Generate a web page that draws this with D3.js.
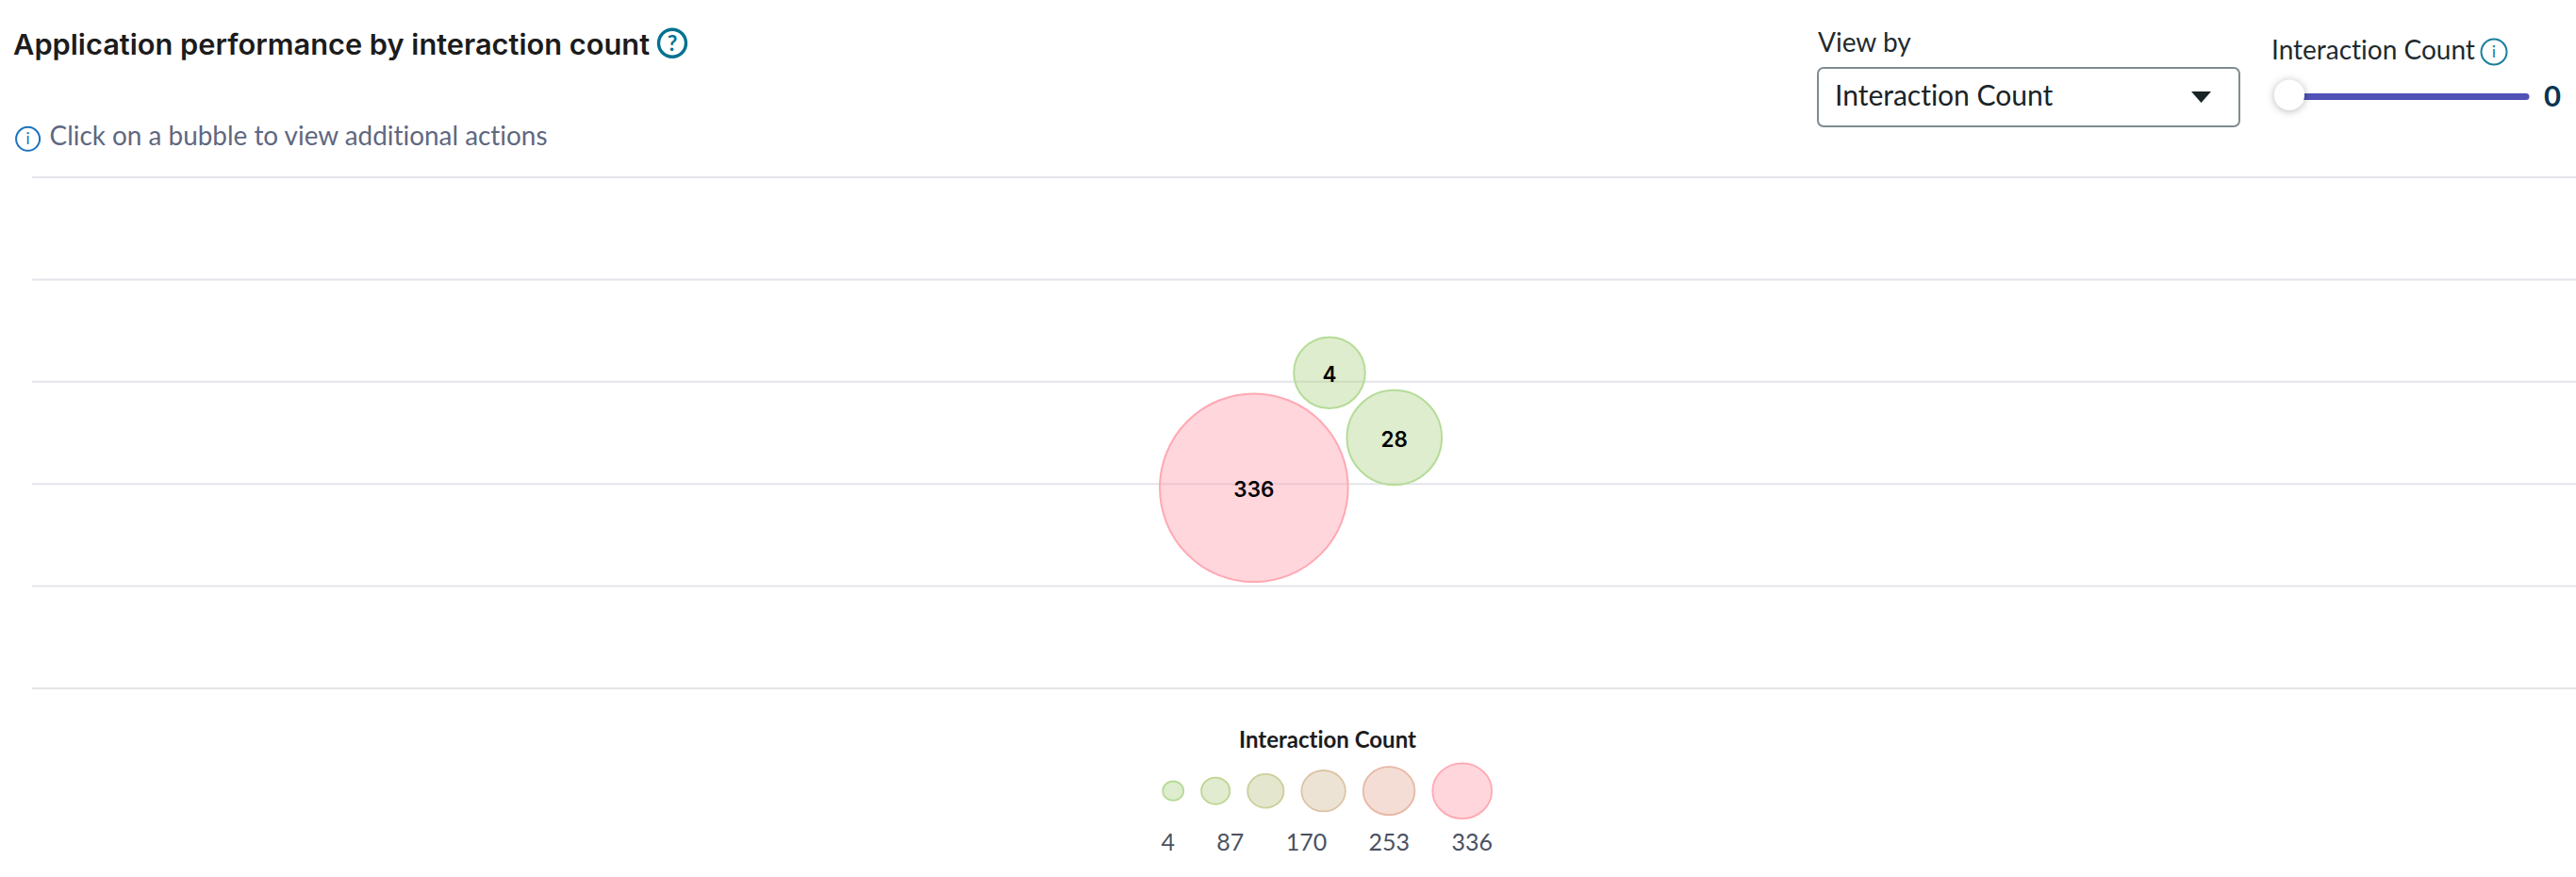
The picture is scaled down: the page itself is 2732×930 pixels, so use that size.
<!DOCTYPE html>
<html>
<head>
<meta charset="utf-8">
<title>Application performance by interaction count</title>
<script src="https://cdnjs.cloudflare.com/ajax/libs/d3/7.8.5/d3.min.js"></script>
<style>
  html, body { margin: 0; padding: 0; background: #fff; overflow: hidden; }
  svg { display: block; }
  text { font-family: Lato, sans-serif; font-variant-ligatures: none; }
  .heading { font-family: Inter, sans-serif; }
</style>
</head>
<body>
<svg id="chart" width="2732" height="930"></svg>
<script>
// Application bubbles
const bubbleCounts = [336, 4, 28];
const bubbleX = [48.03, 51.0, 53.55];
const bubbleY = [1.962, 3.088, 2.454];

// Horizontal grid levels and legend contents
const gridLevels = [0, 1, 2, 3, 4, 5];
const legendSteps = [4, 70.4, 136.8, 203.2, 269.6, 336];
const legendLabels = [4, 87, 170, 253, 336];
const stepFills = ["#acd383", "#b4cc88", "#bfc184", "#d2b896", "#e4a995", "#ff98a7"];
const stepStrokes = ["#b5dc98", "#bdd692", "#cdcf9a", "#dcc4a4", "#e8b8a6", "#ffa8b2"];

const svg = d3.select("#chart");

const x = d3.scaleLinear().domain([0, 100]).range([34, 2732]);
const y = d3.scaleLinear().domain([0, 5]).range([730, 188]);
const radius = d3.scaleSqrt().domain([4, 336]).range([38.3, 100.3]);

// Counts fall into the colour band of the nearest legend step
const bandEdges = d3.pairs(legendSteps, (a, b) => (a + b) / 2);
const fill = d3.scaleThreshold().domain(bandEdges).range(stepFills);
const stroke = d3.scaleThreshold().domain(bandEdges).range(stepStrokes);

// ---- header ----
function infoIcon(cx, cy, r, colour, glyph, size, weight) {
  const g = svg.append("g");
  g.append("circle").attr("cx", cx).attr("cy", cy).attr("r", r)
    .attr("fill", "none").attr("stroke", colour).attr("stroke-width", weight === 700 ? 3.4 : 2);
  g.append("text").attr("x", cx).attr("y", cy + size * 0.36)
    .attr("text-anchor", "middle").attr("font-size", size).attr("font-weight", weight)
    .attr("fill", colour).text(glyph);
}

svg.append("text").attr("class", "heading").attr("x", 14).attr("y", 58)
  .attr("font-size", 30).attr("font-weight", 600).attr("fill", "#1c1c1c")
  .attr("textLength", 675).attr("lengthAdjust", "spacingAndGlyphs")
  .text("Application performance by interaction count");
infoIcon(713, 45.7, 14.5, "#00728f", "?", 23, 700);

infoIcon(29.6, 147.3, 12.5, "#1a73c0", "i", 17, 400);
svg.append("text").attr("x", 52.5).attr("y", 154)
  .attr("font-size", 28).attr("fill", "#5f6880")
  .attr("textLength", 528).attr("lengthAdjust", "spacingAndGlyphs")
  .text("Click on a bubble to view additional actions");

// ---- view-by dropdown ----
svg.append("text").attr("x", 1928).attr("y", 55)
  .attr("font-size", 28).attr("fill", "#1f2a2e").text("View by");
svg.append("rect").attr("x", 1928).attr("y", 72).attr("width", 447).attr("height", 62).attr("rx", 6)
  .attr("fill", "#fff").attr("stroke", "#7f8c92").attr("stroke-width", 2);
svg.append("text").attr("x", 1946).attr("y", 112)
  .attr("font-size", 30).attr("fill", "#1a2326").text("Interaction Count");
svg.append("path")
  .attr("d", d3.line()([[2324, 97], [2345, 97], [2334.5, 109]]) + "Z")
  .attr("fill", "#1a2326");

// ---- count slider ----
const sliderShadow = svg.append("defs").append("filter").attr("id", "thumb-shadow")
  .attr("x", "-60%").attr("y", "-60%").attr("width", "220%").attr("height", "220%");
sliderShadow.append("feDropShadow").attr("dx", 0).attr("dy", 1)
  .attr("stdDeviation", 4).attr("flood-color", "#000").attr("flood-opacity", 0.3);

svg.append("text").attr("x", 2409).attr("y", 63)
  .attr("font-size", 28).attr("fill", "#1f2a2e").text("Interaction Count");
infoIcon(2645, 55, 13.5, "#1a7f9c", "i", 18, 400);
svg.append("line").attr("x1", 2428).attr("x2", 2679).attr("y1", 102.5).attr("y2", 102.5)
  .attr("stroke", "#5052b8").attr("stroke-width", 7).attr("stroke-linecap", "round");
svg.append("circle").attr("cx", 2428).attr("cy", 100.7).attr("r", 16)
  .attr("fill", "#fff").attr("filter", "url(#thumb-shadow)");
svg.append("text").attr("x", 2707).attr("y", 113).attr("text-anchor", "middle")
  .attr("font-size", 31).attr("font-weight", 700).attr("fill", "#0a3550").text("0");

// ---- grid ----
const grid = svg.append("g").attr("transform", `translate(${x.range()[0]},0)`)
  .call(d3.axisLeft(y).tickValues(gridLevels).tickFormat("").offset(0)
    .tickSize(-(x.range()[1] - x.range()[0])));
grid.select(".domain").remove();
grid.selectAll(".tick line").attr("stroke", "#e4e4ea").attr("stroke-width", 2);

// ---- bubbles ----
const bubbles = svg.append("g").selectAll("g")
  .data(bubbleCounts.map((count, i) => ({ count, px: bubbleX[i], py: bubbleY[i] })))
  .join("g")
  .attr("transform", d => `translate(${x(d.px)},${y(d.py)})`);
bubbles.append("circle")
  .attr("r", d => radius(d.count) - 0.5)
  .attr("fill", d => fill(d.count)).attr("fill-opacity", 0.4)
  .attr("stroke", d => stroke(d.count)).attr("stroke-width", 2);
bubbles.append("text").attr("class", "heading")
  .attr("text-anchor", "middle").attr("y", 10)
  .attr("font-size", 22.5).attr("font-weight", 600).attr("fill", "#000")
  .text(d => d.count);

// ---- legend ----
svg.append("text").attr("x", 1408).attr("y", 792.5).attr("text-anchor", "middle")
  .attr("font-size", 24).attr("font-weight", 700).attr("fill", "#1c1c1c")
  .text("Interaction Count");

const legendRx = d3.scaleLinear().domain([4, 336]).range([11.8, 32.2]);
const legendRy = d3.scaleLinear().domain([4, 336]).range([11, 30.2]);
const legendGap = 17.3;
let cursor = 1232.4;
const legendItems = legendSteps.map(v => {
  const cx = cursor + legendRx(v);
  cursor = cx + legendRx(v) + legendGap;
  return { v, cx };
});
svg.append("g").selectAll("ellipse").data(legendItems).join("ellipse")
  .attr("cx", d => d.cx).attr("cy", 838.7)
  .attr("rx", d => legendRx(d.v) - 0.8).attr("ry", d => legendRy(d.v) - 0.8)
  .attr("fill", d => fill(d.v)).attr("fill-opacity", 0.4)
  .attr("stroke", d => stroke(d.v)).attr("stroke-width", 1.8);

const legendX = d3.scaleLinear().domain([4, 336]).range([1231.5, 1583]);
svg.append("g").selectAll("text").data(legendLabels).join("text")
  .attr("x", d => legendX(d)).attr("y", 902)
  .attr("text-anchor", (d, i) => (i === 0 ? "start" : "end"))
  .attr("font-size", 25).attr("fill", "#4a5262")
  .text(d => d);
</script>
</body>
</html>
